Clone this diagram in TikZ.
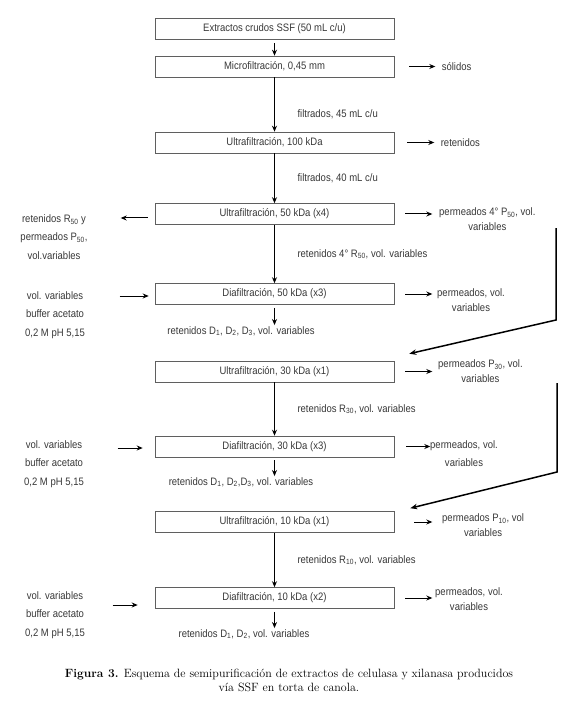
\documentclass[tikz,border=0pt]{standalone}
\usepackage{fontspec}
\newfontfamily\narrowsf[FakeStretch=0.88]{Liberation Sans}
\usetikzlibrary{calc}
\usetikzlibrary{arrows.meta}
\definecolor{tinta}{RGB}{55,55,55}
\definecolor{borde}{RGB}{95,95,95}

\tikzset{
 etapa/.style={draw=borde, line width=.6pt, minimum width=239pt, minimum height=21pt, inner sep=0pt, text=tinta, font=\narrowsf\fontsize{10.8}{13}\selectfont},
 txt/.style={text=tinta, inner sep=1pt, font=\narrowsf\fontsize{10.8}{13}\selectfont},
 izq/.style={txt, align=center, font=\narrowsf\fontsize{10.8}{18.5}\selectfont},
 der/.style={txt, align=center, anchor=west, font=\narrowsf\fontsize{10.8}{15}\selectfont},
 flujo/.style={black, line width=1pt, -{Stealth[length=6pt,width=5pt]}},
 retorno/.style={black, line width=1.5pt, -{Stealth[length=7pt,width=5.5pt]}},
}

\begin{document}
\begin{tikzpicture}[x=1pt, y=-1pt]
\useasboundingbox (0,0) rectangle (578,703);
\foreach \n/\y/\t in {ext/28.5/{Extractos crudos SSF (50 mL c/u)},
  mf/66.5/{Microfiltración, 0,45 mm},
  uf100/142.5/{Ultrafiltración, 100 kDa},
  uf50/214/{Ultrafiltración, 50 kDa (x4)},
  df50/294/{Diafiltración, 50 kDa (x3)},
  uf30/371.5/{Ultrafiltración, 30 kDa (x1)},
  df30/446.5/{Diafiltración, 30 kDa (x3)},
  uf10/522/{Ultrafiltración, 10 kDa (x1)},
  df10/598/{Diafiltración, 10 kDa (x2)}}
 \node[etapa] (\n) at (274.5,\y) {\t};

\draw[flujo, shorten <=4pt] (ext) -- (mf);
\draw[flujo] (mf) -- node[txt, right=21.5pt, pos=.68] (f45) {filtrados, 45 mL c/u} (uf100);
\draw[flujo] (uf100) -- node[txt, right=21.5pt] (f40) {filtrados, 40 mL c/u} (uf50);
\draw[flujo] (uf50) -- node[txt, right=21.5pt] (r50) {retenidos 4° R\textsubscript{50}, vol. variables} (df50);
\draw[flujo] (uf30) -- node[txt, right=21.5pt] (r30) {retenidos R\textsubscript{30}, vol. variables} (df30);
\draw[flujo] (uf10) -- node[txt, right=21.5pt] (r10) {retenidos R\textsubscript{10}, vol. variables} (df10);

\node[txt] (d50) at (241,331) {retenidos D\textsubscript{1}, D\textsubscript{2}, D\textsubscript{3}, vol. variables};
\node[txt] (d30) at (241,482) {retenidos D\textsubscript{1}, D\textsubscript{2},D\textsubscript{3}, vol. variables};
\node[txt] (d10) at (244,634) {retenidos D\textsubscript{1}, D\textsubscript{2}, vol. variables};
\draw[flujo, shorten <=3pt] (df50) -- (df50.south |- d50.north);
\draw[flujo, shorten <=3pt] (df30) -- (df30.south |- d30.north);
\draw[flujo, shorten <=3pt] (df10) -- (df10.south |- d10.north);

\draw[flujo] ([xshift=15pt]mf.east) -- ++(26,0) node[txt, anchor=west, xshift=5pt] (sol) {sólidos};
\draw[flujo] ([xshift=13pt]uf100.east) -- ++(27,0) node[txt, anchor=west, xshift=5pt] (ret) {retenidos};
\node[der] (p50) at (438,219.5) {permeados 4° P\textsubscript{50}, vol.\\variables};
\node[der] (pd50) at (436,300.5) {permeados, vol.\\variables};
\node[der] (p30) at (437,371.5) {permeados P\textsubscript{30}, vol.\\variables};
\node[der, font=\narrowsf\fontsize{10.8}{18}\selectfont] (pd30) at (429,454) {permeados, vol.\\variables};
\node[der] (p10) at (441,525) {permeados P\textsubscript{10}, vol\\variables};
\node[der] (pd10) at (434,599.5) {permeados, vol.\\variables};
\draw[flujo] ([xshift=11pt]uf50.east) -- ++(27,0);
\draw[flujo] ([xshift=11pt]df50.east) -- ++(27,0);
\draw[flujo] ([xshift=11pt]uf30.east) -- ++(27,0);
\draw[flujo] ([xshift=12pt]df30.east) -- ++(24,0);
\draw[flujo] ([xshift=20pt]uf10.east) -- ++(18,0);
\draw[flujo] ([xshift=11pt]df10.east) -- ++(27,0);

\coordinate (a1) at (556,228);
\coordinate (b1) at (556,320);
\coordinate (c1) at ($(uf30.north east)+(15,-7)$);
\draw[retorno] (a1) -- (b1) -- (c1);
\coordinate (a2) at (557,383);
\coordinate (b2) at (557,472);
\coordinate (c2) at ($(uf10.north east)+(16,-3)$);
\draw[retorno] (a2) -- (b2) -- (c2);

\node[izq] (e50) at (54,237) {retenidos R\textsubscript{50} y\\permeados P\textsubscript{50},\\vol.variables};
\node[izq] (b50) at (55,315) {vol. variables\\buffer acetato\\0,2 M pH 5,15};
\node[izq] (b30) at (54,464) {vol. variables\\buffer acetato\\0,2 M pH 5,15};
\node[izq] (b10) at (55,615) {vol. variables\\buffer acetato\\0,2 M pH 5,15};
\draw[flujo] (uf50.west) ++(-7,4) -- ++(-27,0);
\draw[flujo] (df50.west) ++(-35,2) -- ++(29,0);
\draw[flujo] (df30.west) ++(-37,1.5) -- ++(25,0);
\draw[flujo] (df10.west) ++(-42,7) -- ++(25,0);

\node[align=center, font=\fontsize{12}{13.8}\selectfont] (cap) at (289,680)
 {\textbf{Figura 3.} Esquema de semipurificación de extractos de celulasa y xilanasa producidos\\vía SSF en torta de canola.};
\end{tikzpicture}
\end{document}
